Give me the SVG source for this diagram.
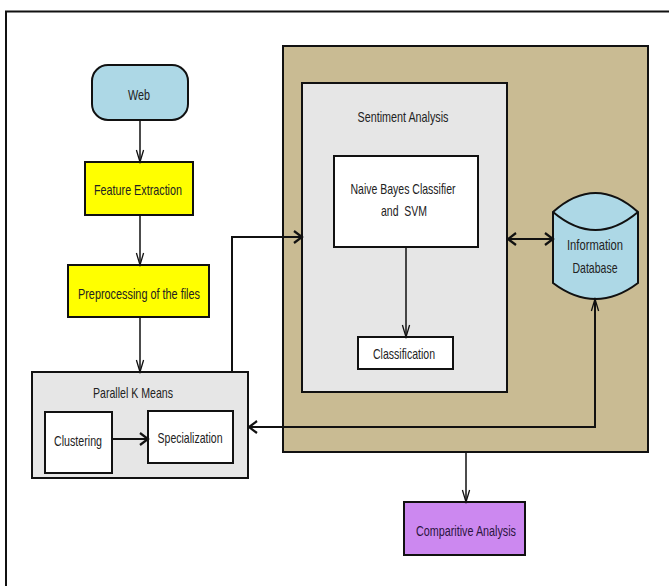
<svg xmlns="http://www.w3.org/2000/svg" width="669" height="586" viewBox="0 0 669 586">
<style>
.box{stroke:#111;stroke-width:2}
.t{font-family:"Liberation Sans",Arial,sans-serif;font-size:15px;fill:#222;text-anchor:middle;dominant-baseline:central}
.c{fill:none;stroke:#111;stroke-width:1.5}
.ck{fill:none;stroke:#111;stroke-width:2}
</style>
<defs>
<marker id="thin" markerUnits="userSpaceOnUse" viewBox="-14 -7 16 14" refX="0" refY="0" markerWidth="16" markerHeight="14" orient="auto-start-reverse">
<path d="M-12,-3.6 L0,0 L-12,3.6" fill="none" stroke="#111" stroke-width="1.3"/>
</marker>
<marker id="thick" markerUnits="userSpaceOnUse" viewBox="-12 -8 14 16" refX="0" refY="0" markerWidth="14" markerHeight="16" orient="auto-start-reverse">
<path d="M-8,-6 L0,0 L-8,6" fill="none" stroke="#111" stroke-width="2.2"/>
</marker>
</defs>
<rect width="669" height="586" fill="#fff"/>
<g id="frame">
<path d="M5,11.5 H669 M6,11 V586" fill="none" stroke="#111" stroke-width="2"/>
</g>
<g id="main-container">
<rect class="box" x="283" y="46" width="365" height="406" fill="#C9BB93"/>
</g>
<g id="sentiment-analysis">
<rect class="box" x="302" y="83" width="205" height="309" fill="#E6E6E6"/>
<text class="t" x="403" y="116" textLength="91" lengthAdjust="spacingAndGlyphs">Sentiment Analysis</text>
</g>
<g id="naive-bayes">
<rect class="box" x="334" y="156" width="144" height="91" fill="#fff"/>
<text class="t" x="403" y="188" textLength="105" lengthAdjust="spacingAndGlyphs">Naive Bayes Classifier</text>
<text class="t" x="404" y="210" textLength="46" lengthAdjust="spacingAndGlyphs">and&#160; SVM</text>
</g>
<g id="classification">
<rect class="box" x="358" y="337" width="95" height="32" fill="#fff"/>
<text class="t" x="404" y="353" textLength="62" lengthAdjust="spacingAndGlyphs">Classification</text>
</g>
<g id="information-database">
<path class="box" d="M553,212 Q595.5,174 638,212 L638,283 Q595.5,315 553,283 Z" fill="#ADD8E6"/>
<path d="M553,212 Q595.5,248 638,212" fill="none" stroke="#111" stroke-width="2"/>
<text class="t" x="595" y="244" textLength="56" lengthAdjust="spacingAndGlyphs">Information</text>
<text class="t" x="595" y="267" textLength="45" lengthAdjust="spacingAndGlyphs">Database</text>
</g>
<g id="web">
<rect class="box" x="92" y="65" width="96" height="55" rx="16" ry="16" fill="#ADD8E6"/>
<text class="t" x="139" y="94" textLength="22" lengthAdjust="spacingAndGlyphs">Web</text>
</g>
<g id="feature-extraction">
<rect class="box" x="85" y="162" width="108" height="53" fill="#FFFF00"/>
<text class="t" x="138" y="189" textLength="88" lengthAdjust="spacingAndGlyphs">Feature Extraction</text>
</g>
<g id="preprocessing">
<rect class="box" x="68" y="265" width="141" height="52" fill="#FFFF00"/>
<text class="t" x="139" y="293" textLength="122" lengthAdjust="spacingAndGlyphs">Preprocessing of the files</text>
</g>
<g id="parallel-k-means">
<rect class="box" x="32" y="372" width="216" height="106" fill="#E6E6E6"/>
<text class="t" x="133" y="392" textLength="80" lengthAdjust="spacingAndGlyphs">Parallel K Means</text>
</g>
<g id="clustering">
<rect class="box" x="45" y="412" width="67" height="61" fill="#fff"/>
<text class="t" x="78" y="440" textLength="48" lengthAdjust="spacingAndGlyphs">Clustering</text>
</g>
<g id="specialization">
<rect class="box" x="148" y="411" width="85" height="52" fill="#fff"/>
<text class="t" x="190" y="437" textLength="65" lengthAdjust="spacingAndGlyphs">Specialization</text>
</g>
<g id="comparitive-analysis">
<rect class="box" x="404" y="502" width="121" height="53" fill="#CC88F0"/>
<text class="t" x="466" y="530" textLength="100" lengthAdjust="spacingAndGlyphs" style="fill:#2a1540">Comparitive Analysis</text>
</g>
<g id="connectors">
<path class="c" d="M140,120 V162" marker-end="url(#thin)"/>
<path class="c" d="M140,215 V265" marker-end="url(#thin)"/>
<path class="c" d="M140,317 V372" marker-end="url(#thin)"/>
<path class="ck" d="M232,372 V237 H302" marker-end="url(#thick)"/>
<path class="c" d="M406,247 V337" marker-end="url(#thin)"/>
<path class="ck" d="M508,239 H553" marker-start="url(#thick)" marker-end="url(#thick)"/>
<path class="ck" d="M112,439 H148" marker-end="url(#thick)"/>
<path class="ck" d="M249,427 H595 V299" marker-start="url(#thick)" marker-end="url(#thin)"/>
<path class="c" d="M466,452 V502" marker-end="url(#thin)"/>
</g>
</svg>
